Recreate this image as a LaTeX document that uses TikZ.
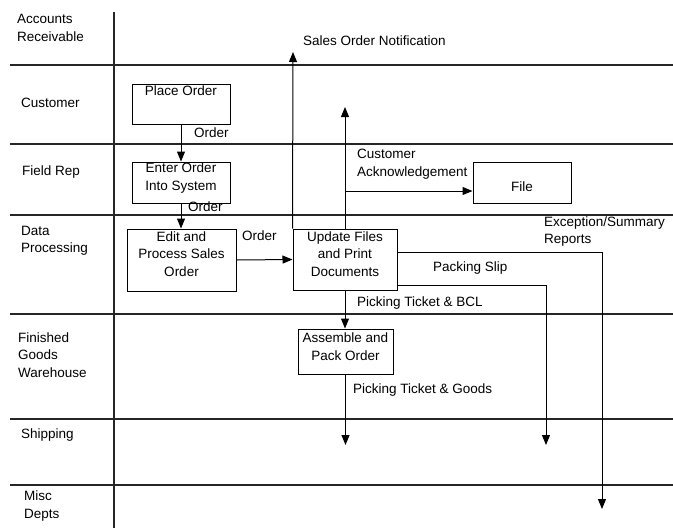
\documentclass[tikz,border=0pt]{standalone}
\usepackage{fontspec}
\setmainfont{Liberation Sans}
\usetikzlibrary{arrows.meta}
\begin{document}
\begin{tikzpicture}[x=1pt,y=-1pt,
  lane/.style={line width=1.4pt, draw=black!85},
  box/.style={draw, line width=1pt, inner sep=0pt},
  txt/.style={inner sep=0pt, font=\fontsize{13.5}{17.5}\selectfont, align=center},
  ltxt/.style={inner sep=0pt, font=\fontsize{13.5}{17.5}\selectfont, align=left, anchor=west},
  arr/.style={line width=1pt, -{Triangle[length=10pt,width=8pt]}}]
\useasboundingbox (0,0) rectangle (673,528);
% lanes
\foreach \yy in {65,144,215,314,419,485} \draw[lane] (10,\yy) -- (673,\yy);
\draw[lane] (114,12) -- (114,528);
% lane labels
\node[ltxt] (lar) at (17,28) {Accounts\\Receivable};
\node[ltxt] (lcu) at (21,103) {Customer};
\node[ltxt] (lfr) at (22,172) {Field Rep};
\node[ltxt] (ldp) at (21,241) {Data\\Processing};
\node[ltxt] (lfg) at (18,355) {Finished\\Goods\\Warehouse};
\node[ltxt] (lsh) at (21,435) {Shipping};
\node[ltxt] (lmd) at (24,506) {Misc\\Depts};
% boxes
\node[box, minimum width=98pt, minimum height=40pt] (place) at (181,104) {};
\node[txt] (placeT) at (181,91) {Place Order};
\node[box, minimum width=98pt, minimum height=41pt] (enter) at (181,182.5) {};
\node[txt] (enterT) at (181,178) {Enter Order\\Into System};
\node[box, minimum width=109pt, minimum height=62pt] (edit) at (181.5,260) {};
\node[txt] (editT) at (181.5,254) {Edit and\\Process Sales\\Order};
\node[box, minimum width=104pt, minimum height=61pt] (update) at (345,259.5) {};
\node[txt] (updateT) at (345,254) {Update Files\\and Print\\Documents};
\node[box, minimum width=98pt, minimum height=41pt] (file) at (522,182.5) {};
\node[txt] (fileT) at (522,187) {File};
\node[box, minimum width=95pt, minimum height=45pt] (assemble) at (345.5,351.5) {};
\node[txt] (assembleT) at (345.5,346.5) {Assemble and\\Pack Order};
% free ends
\coordinate (son) at (293,52);
\coordinate (ack) at (345,107);
\coordinate (ackb) at (345,191);
\coordinate (shipA) at (345.5,445);
\coordinate (packS) at (397,285);
\coordinate (packE) at (546,445);
\coordinate (excS) at (397,252);
\coordinate (excE) at (602,509);
% connectors
\draw[arr] (place.south) -- (enter.north);
\draw[arr] (enter.south) -- (enter.south |- edit.north);
\draw[arr] (edit.east) -- (update.west);
\draw[arr] (update.north west) -- (son);
\draw[arr] (update.north) -- (ack);
\draw[arr] (ackb) -- (file.west |- ackb);
\draw[arr] (update.south) -- (update.south |- assemble.north);
\draw[arr] (assemble.south) -- (shipA);
\draw[arr] (packS) -| (packE);
\draw[arr] (excS) -| (excE);
% connector labels
\node[ltxt] (sonL) at (303,41) {Sales Order Notification};
\node[ltxt] (o1) at (194,133) {Order};
\node[ltxt] (o2) at (188,207) {Order};
\node[ltxt] (o3) at (242,236) {Order};
\node[ltxt] (ackL) at (357,164) {Customer\\Acknowledgement};
\node[ltxt] (excL) at (544,231.5) {Exception/Summary\\Reports};
\node[ltxt] (packL) at (433,268) {Packing Slip};
\node[ltxt] (ptb) at (357,303) {Picking Ticket \& BCL};
\node[ltxt] (ptg) at (353,390) {Picking Ticket \& Goods};
\end{tikzpicture}
\end{document}
